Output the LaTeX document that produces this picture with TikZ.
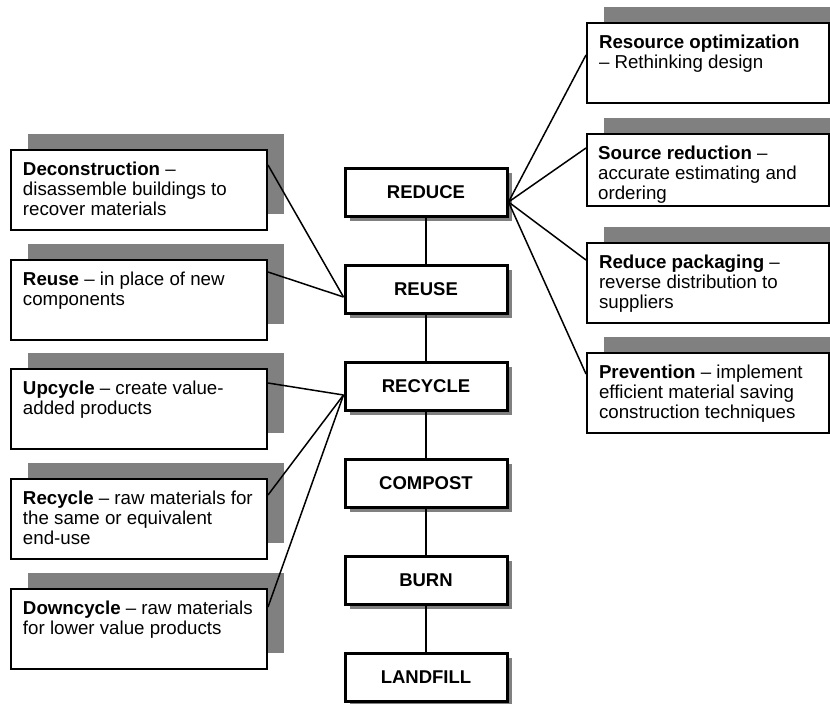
\documentclass[tikz,border=0pt]{standalone}
\usepackage{fontspec}
\setmainfont{Liberation Sans}
\usetikzlibrary{shadows}
\usetikzlibrary{calc}
\definecolor{shadowgray}{HTML}{808080}
\newcommand{\boxtext}[2][232pt]{\parbox[t][56pt][t]{#1}{\fontsize{18.7}{19.8}\selectfont\raggedright #2}}

\begin{document}
\begin{tikzpicture}[x = 1pt, y = -1pt]
	\tikzstyle{tierStyle} = [draw, line width = 3pt, fill = white, minimum width = 162pt, minimum height = 48pt, inner sep = 0pt, font = \fontsize{18.5}{20}\selectfont\bfseries, drop shadow = {shadow xshift = 5pt, shadow yshift = -5pt, fill = shadowgray, opacity = 1}]
	\tikzstyle{sideStyle} = [draw, line width = 2pt, fill = white, anchor = north west, inner xsep = 12pt, inner ysep = 11pt, minimum width = 256pt, minimum height = 80pt, drop shadow = {shadow xshift = 17pt, shadow yshift = 16pt, fill = shadowgray, opacity = 1}]
	\tikzstyle{rightStyle} = [sideStyle, minimum width = 242pt]
	\tikzstyle{textStyle} = [anchor = north west, inner xsep = 12pt, inner ysep = 13pt]
	\tikzstyle{linkStyle} = [line width = 1.5pt]
	\useasboundingbox (0, 0) rectangle (830, 704);
	% centre column
	\node[tierStyle] (reduce) at (426, 192) {REDUCE};
	\node[tierStyle] (reuse) at (426, 289) {REUSE};
	\node[tierStyle] (recycle) at (426, 386) {RECYCLE};
	\node[tierStyle] (compost) at (426, 483) {COMPOST};
	\node[tierStyle] (burn) at (426, 580) {BURN};
	\node[tierStyle] (landfill) at (426, 677) {LANDFILL};
	% left column
	\node[sideStyle] (decon) at (10, 149) {\boxtext{\textbf{Deconstruction} --\\ disassemble buildings to\\ recover materials}};
	\node[sideStyle] (reuseL) at (10, 259) {\boxtext{\textbf{Reuse} -- in place of new\\ components}};
	\node[sideStyle] (upcycle) at (10, 368) {\boxtext{\textbf{Upcycle} -- create value-\\ added products}};
	\node[sideStyle] (recycleL) at (10, 478) {\boxtext{\textbf{Recycle} -- raw materials for\\ the same or equivalent\\ end-use}};
	\node[sideStyle] (downcycle) at (10, 588) {\boxtext{\textbf{Downcycle} -- raw materials\\ for lower value products}};
	% right column
	\node[rightStyle] (resource) at (586, 22) {\boxtext[218pt]{\textbf{Resource optimization}\\ -- Rethinking design}};
	\node[rightStyle, minimum height = 72pt] (source) at (586, 133) {};
	\begin{scope}
		\clip (source.north west) rectangle ($(source.south east) + (0, -3)$);
		\node[textStyle] (sourceText) at (source.north west) {\boxtext[218pt]{\textbf{Source reduction} --\\ accurate estimating and\\ ordering}};
	\end{scope}
	\node[rightStyle] (packaging) at (586, 242) {\boxtext[218pt]{\textbf{Reduce packaging} --\\ reverse distribution to\\ suppliers}};
	\node[rightStyle] (prevention) at (586, 352) {\boxtext[218pt]{\textbf{Prevention} -- implement\\ efficient material saving\\ construction techniques}};
	% links
	\draw[linkStyle] (reduce) -- (reuse);
	\draw[linkStyle] (reuse) -- (recycle);
	\draw[linkStyle] (recycle) -- (compost);
	\draw[linkStyle] (compost) -- (burn);
	\draw[linkStyle] (burn) -- (landfill);
	\draw[linkStyle] (decon.north east) ++(0, 16) -- ($(reuse.west) + (0, 8)$);
	\draw[linkStyle] (reuseL.north east) ++(0, 13) -- ($(reuse.west) + (0, 8)$);
	\draw[linkStyle] (upcycle.north east) ++(0, 15) -- ($(recycle.west) + (0, 9)$);
	\draw[linkStyle] (recycleL.north east) ++(0, 17) -- ($(recycle.west) + (0, 9)$);
	\draw[linkStyle] (downcycle.north east) ++(0, 19) -- ($(recycle.west) + (0, 9)$);
	\draw[linkStyle] ($(reduce.east) + (0, 10)$) -- ($(resource.north west) + (0, 33)$);
	\draw[linkStyle] ($(reduce.east) + (0, 10)$) -- ($(source.north west) + (0, 15)$);
	\draw[linkStyle] ($(reduce.east) + (0, 10)$) -- ($(packaging.north west) + (0, 18)$);
	\draw[linkStyle] ($(reduce.east) + (0, 10)$) -- ($(prevention.north west) + (0, 22)$);
\end{tikzpicture}
\end{document}
